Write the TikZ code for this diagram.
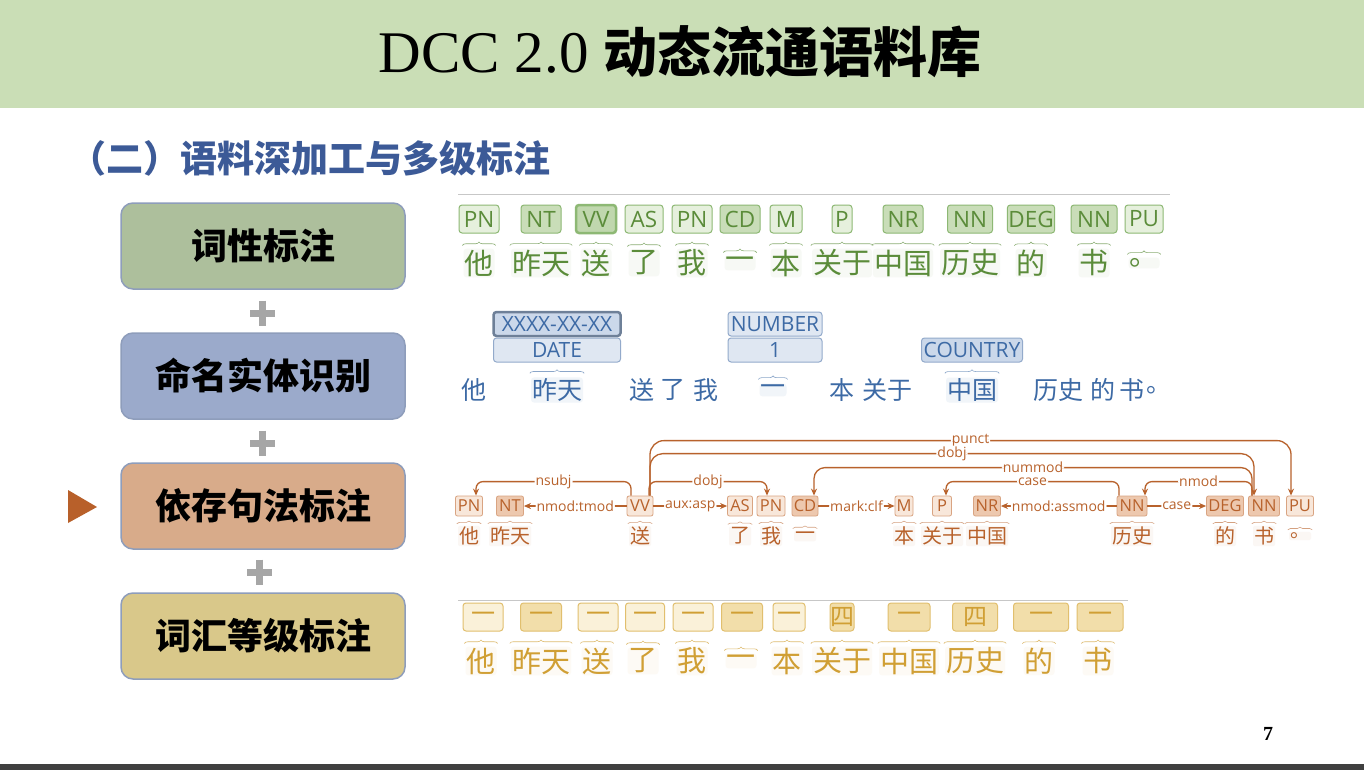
\documentclass[tikz,border=0pt]{standalone}
\usepackage{fontspec}
\setmainfont{Open Sans}
\newfontfamily\cjk{Noto Sans CJK SC}
\newfontfamily\serif{Liberation Serif}
\usetikzlibrary{arrows.meta,calc,decorations.pathreplacing}

\definecolor{bandgreen}{HTML}{CADEB6}
\definecolor{subblue}{HTML}{3C5A97}
\definecolor{boxline}{HTML}{8E9DBB}
\definecolor{posfill}{HTML}{ADBF9C}
\definecolor{nerfill}{HTML}{9BAACB}
\definecolor{depfill}{HTML}{D8AB8A}
\definecolor{lexfill}{HTML}{D9C88A}
\definecolor{plusgray}{HTML}{A6A6A6}
\definecolor{marker}{HTML}{B8602A}
\definecolor{posc}{HTML}{5B8C3A}
\definecolor{posb}{HTML}{8DB874}
\definecolor{posl}{HTML}{E6F0DD}
\definecolor{posd}{HTML}{C9DDB8}
\definecolor{nerc}{HTML}{3D6AA5}
\definecolor{nerb}{HTML}{93AACB}
\definecolor{nerl}{HTML}{DFE7F2}
\definecolor{nerd}{HTML}{CBD8EA}
\definecolor{depc}{HTML}{B8622C}
\definecolor{depb}{HTML}{D9A482}
\definecolor{depl}{HTML}{F8E7DA}
\definecolor{depd}{HTML}{EDC8AE}
\definecolor{lexc}{HTML}{D09F34}
\definecolor{lexb}{HTML}{E1BF6E}
\definecolor{lexl}{HTML}{FAF1D9}
\definecolor{lexd}{HTML}{F2DEAA}

\begin{document}
\begin{tikzpicture}[x=1pt, y=-1pt,
    level box/.style={draw=boxline, line width=1.5pt, rounded corners=12pt, minimum width=284pt, minimum height=86pt, font=\cjk\bfseries\fontsize{36}{36}\selectfont},
    plus/.style={draw=plusgray, line width=7pt},
    brc/.style={decorate, decoration={brace, amplitude=3.5pt}, line width=0.6pt},
    pos tag/.style={draw=posb, fill=posl, text=posc, rounded corners=3pt, line width=1pt, minimum width=40pt, minimum height=28pt, inner xsep=1pt, inner ysep=0pt, font=\fontsize{22.5}{22.5}\selectfont},
    pos tag dark/.style={pos tag, fill=posd},
    pos word/.style={text=posc, fill=posc!5, rounded corners=3pt, inner sep=1pt, font=\cjk\fontsize{29}{29}\selectfont},
    ner tag/.style={draw=nerb, fill=nerl, text=nerc, rounded corners=3pt, line width=1pt, minimum height=24pt, inner sep=0pt, font=\fontsize{21}{21}\selectfont},
    ner word/.style={text=nerc, inner sep=1pt, font=\cjk\fontsize{25}{25}\selectfont},
    ner key/.style={ner word, fill=nerc!7, rounded corners=3pt},
    dep tag/.style={draw=depb, fill=depl, text=depc, rounded corners=2pt, line width=0.8pt, minimum width=26pt, minimum height=20pt, inner xsep=1pt, inner ysep=0pt, font=\fontsize{16.5}{16.5}\selectfont},
    dep tag dark/.style={dep tag, fill=depd},
    dep word/.style={text=depc, fill=depc!5, rounded corners=2pt, inner sep=1pt, font=\cjk\fontsize{20}{20}\selectfont},
    dep/.style={draw=depc, line width=1.3pt, rounded corners=7pt, -{Stealth[length=7pt,width=6pt]}},
    dlab/.style={fill=white, text=depc, inner sep=1pt, font=\fontsize{14}{14}\selectfont},
    lex tag/.style={draw=lexb, fill=lexl, text=lexc, rounded corners=3pt, line width=1pt, minimum width=40pt, minimum height=28pt, inner sep=0pt, font=\cjk\fontsize{24}{24}\selectfont},
    lex tag dark/.style={lex tag, fill=lexd},
    lex word/.style={text=lexc, fill=lexc!5, rounded corners=3pt, inner sep=1pt, font=\cjk\fontsize{29}{29}\selectfont}]

    \fill[white] (0,0) rectangle (1364,770);
    \useasboundingbox (0,0) rectangle (1364,770);

    \fill[bandgreen] (0,0) rectangle (1364,108);
    \fill[black!75] (0,764) rectangle (1364,770);
    \node at (680,52) (title) {\serif\fontsize{59}{59}\selectfont DCC 2.0 \cjk\bfseries\fontsize{54}{54}\selectfont 动态流通语料库};
    \node[text=subblue, font=\cjk\bfseries\fontsize{37}{37}\selectfont] at (310,158) (sub) {（二）语料深加工与多级标注};
    \node[font=\serif\bfseries\fontsize{20}{20}\selectfont] at (1268,734) (pageno) {7};

    \node[level box, fill=posfill] at (263,246) (pos) {词性标注};
    \node[level box, fill=nerfill] at (263,376) (ner) {命名实体识别};
    \node[level box, fill=depfill] at (263,506) (dep) {依存句法标注};
    \node[level box, fill=lexfill] at (263,636) (lex) {词汇等级标注};

    \draw[plus] (250,313) -- (275,313) (262.5,300.5) -- (262.5,325.5);
    \draw[plus] (250,443) -- (275,443) (262.5,430.5) -- (262.5,455.5);
    \draw[plus] (247,572) -- (272,572) (259.5,559.5) -- (259.5,584.5);
    \fill[marker] (68,490) -- (97,507) -- (68,523) -- cycle;

    \draw[black!22, line width=1pt] (458,194) -- (1170,194);
    \draw[black!22, line width=1pt] (458,600) -- (1128,600);

    \node[pos tag] at (479,219) (pt1) {PN};
    \node[pos tag dark] at (541,219) (pt2) {NT};
    \node[pos tag dark, fill=posd!85!posb, line width=2.5pt] at (596,219) (pt3) {VV};
    \node[pos tag, minimum width=38pt] at (644,219) (pt4) {AS};
    \node[pos tag] at (692,219) (pt5) {PN};
    \node[pos tag dark] at (740,219) (pt6) {CD};
    \node[pos tag, minimum width=32pt] at (786,219) (pt7) {M};
    \node[pos tag, minimum width=20pt] at (842,219) (pt8) {P};
    \node[pos tag dark] at (903,219) (pt9) {NR};
    \node[pos tag dark, minimum width=45pt] at (970,219) (pt10) {NN};
    \node[pos tag dark, minimum width=44pt] at (1031,219) (pt11) {DEG};
    \node[pos tag dark, minimum width=46pt] at (1094,219) (pt12) {NN};
    \node[pos tag, minimum width=38pt] at (1144,219) (pt13) {PU};

    \node[pos word] at (479,263) (pw1) {他};
    \node[pos word] at (541,263) (pw2) {昨天};
    \node[pos word] at (596,263) (pw3) {送};
    \node[pos word] at (644,263) (pw4) {了};
    \node[pos word] at (692,263) (pw5) {我};
    \node[pos word] at (740,263) (pw6) {一};
    \node[pos word] at (786,263) (pw7) {本};
    \node[pos word] at (842,263) (pw8) {关于};
    \node[pos word] at (903,263) (pw9) {中国};
    \node[pos word] at (970,263) (pw10) {历史};
    \node[pos word] at (1031,263) (pw11) {的};
    \node[pos word] at (1094,263) (pw12) {书};
    \node[pos word] at (1144,263) (pw13) {。};
    \foreach \w in {pw1,pw2,pw3,pw4,pw5,pw6,pw7,pw8,pw9,pw10,pw11,pw12,pw13}
        \draw[brc, draw=posc!70] ([xshift=-1pt,yshift=3pt]\w.north west) -- ([xshift=1pt,yshift=3pt]\w.north east);

    \node[ner tag, minimum width=127pt, fill=nerd, draw=nerb!75!black, line width=2.5pt] at (557,324) (nt1) {XXXX-XX-XX};
    \node[ner tag, minimum width=127pt] at (557,350) (nt2) {DATE};
    \node[ner tag, minimum width=94pt] at (775,324) (nt3) {NUMBER};
    \node[ner tag, minimum width=94pt] at (775,350) (nt4) {1};
    \node[ner tag, minimum width=101pt, fill=nerd] at (972,350) (nt5) {COUNTRY};

    \node[ner word] at (474,390) (nw1) {他};
    \node[ner key] at (557,390) (nw2) {昨天};
    \node[ner word] at (642,390) (nw3) {送};
    \node[ner word] at (673,390) (nw4) {了};
    \node[ner word] at (706,390) (nw5) {我};
    \node[ner key] at (773,390) (nw6) {一};
    \node[ner word] at (842,390) (nw7) {本};
    \node[ner word] at (887,390) (nw8) {关于};
    \node[ner key] at (972,390) (nw9) {中国};
    \node[ner word] at (1058,390) (nw10) {历史};
    \node[ner word] at (1103,390) (nw11) {的};
    \node[ner word] at (1132,390) (nw12) {书};
    \node[ner word] at (1159,390) (nw13) {。};
    \foreach \w in {nw2,nw6,nw9}
        \draw[brc, draw=nerc!60] ([xshift=-1pt,yshift=4pt]\w.north west) -- ([xshift=1pt,yshift=4pt]\w.north east);

    \node[dep tag, minimum width=27pt] at (469,506) (dt1) {PN};
    \node[dep tag dark, minimum width=27pt] at (510,506) (dt2) {NT};
    \node[dep tag] at (640,506) (dt3) {VV};
    \node[dep tag, minimum width=25pt] at (740,506) (dt4) {AS};
    \node[dep tag, minimum width=28pt] at (771,506) (dt5) {PN};
    \node[dep tag dark] at (805,506) (dt6) {CD};
    \node[dep tag, minimum width=18pt] at (904,506) (dt7) {M};
    \node[dep tag, minimum width=19pt] at (942,506) (dt8) {P};
    \node[dep tag dark, minimum width=27pt] at (987,506) (dt9) {NR};
    \node[dep tag dark, minimum width=30pt] at (1132,506) (dt10) {NN};
    \node[dep tag dark, minimum width=37pt] at (1225,506) (dt11) {DEG};
    \node[dep tag dark, minimum width=31pt] at (1264,506) (dt12) {NN};
    \node[dep tag, minimum width=27pt] at (1300,506) (dt13) {PU};

    \node[dep word] at (469,536) (dw1) {他};
    \node[dep word] at (510,536) (dw2) {昨天};
    \node[dep word] at (640,536) (dw3) {送};
    \node[dep word] at (740,536) (dw4) {了};
    \node[dep word] at (771,536) (dw5) {我};
    \node[dep word] at (805,536) (dw6) {一};
    \node[dep word] at (904,536) (dw7) {本};
    \node[dep word] at (942,536) (dw8) {关于};
    \node[dep word] at (987,536) (dw9) {中国};
    \node[dep word] at (1132,536) (dw10) {历史};
    \node[dep word] at (1225,536) (dw11) {的};
    \node[dep word] at (1264,536) (dw12) {书};
    \node[dep word] at (1300,536) (dw13) {。};
    \foreach \w in {dw1,dw2,dw3,dw4,dw5,dw6,dw7,dw8,dw9,dw10,dw11,dw12,dw13}
        \draw[brc, decoration={amplitude=2.5pt}, draw=depc!60] ([xshift=-1pt,yshift=2pt]\w.north west) -- ([xshift=1pt,yshift=2pt]\w.north east);

    \draw[dep, rounded corners=14pt] ($(dt3.north)+(10,0)$) -- ($(dt3.north)+(10,-55)$) -- node[dlab]{punct} ($(dt13.north)+(-9,-55)$) -- ($(dt13.north)+(-9,0)$);
    \draw[dep, rounded corners=13pt] ($(dt3.north)+(10,0)$) -- ($(dt3.north)+(10,-42)$) -- node[dlab]{dobj} ($(dt12.north)+(-10,-42)$) -- ($(dt12.north)+(-10,0)$);
    \draw[dep, rounded corners=11pt] ($(dt12.north)+(-12,0)$) -- ($(dt12.north)+(-12,-28)$) -- node[dlab]{nummod} ($(dt6.north)+(9,-28)$) -- ($(dt6.north)+(9,0)$);
    \draw[dep] ($(dt3.north)+(-9,0)$) -- ($(dt3.north)+(-9,-14)$) -- node[dlab]{nsubj} ($(dt1.north)+(7,-14)$) -- ($(dt1.north)+(7,0)$);
    \draw[dep] ($(dt3.north)+(9,0)$) -- ($(dt3.north)+(9,-14)$) -- node[dlab]{dobj} ($(dt5.north)+(-4,-14)$) -- ($(dt5.north)+(-4,0)$);
    \draw[dep] ($(dt10.north)+(-13,0)$) -- ($(dt10.north)+(-13,-14)$) -- node[dlab]{case} ($(dt8.north)+(4,-14)$) -- ($(dt8.north)+(4,0)$);
    \draw[dep] ($(dt12.north)+(-12,0)$) -- ($(dt12.north)+(-12,-14)$) -- node[dlab]{nmod} ($(dt10.north)+(13,-14)$) -- ($(dt10.north)+(13,0)$);
    \draw[dep] (dt3.west) -- node[dlab]{nmod:tmod} (dt2.east);
    \draw[dep] (dt3.east) -- node[dlab]{aux:asp} (dt4.west);
    \draw[dep] (dt6.east) -- node[dlab]{mark:clf} (dt7.west);
    \draw[dep] (dt10.west) -- node[dlab]{nmod:assmod} (dt9.east);
    \draw[dep] (dt10.east) -- node[dlab]{case} (dt11.west);

    \node[lex tag] at (483,617) (lt1) {一};
    \node[lex tag dark, minimum width=41pt] at (541,617) (lt2) {一};
    \node[lex tag] at (598,617) (lt3) {一};
    \node[lex tag, minimum width=39pt] at (645,617) (lt4) {一};
    \node[lex tag] at (693,617) (lt5) {一};
    \node[lex tag dark, minimum width=41pt] at (742,617) (lt6) {一};
    \node[lex tag, minimum width=32pt] at (789,617) (lt7) {一};
    \node[lex tag dark, minimum width=22pt] at (842,617) (lt8) {四};
    \node[lex tag dark, minimum width=42pt] at (909,617) (lt9) {一};
    \node[lex tag dark, minimum width=45pt] at (975,617) (lt10) {四};
    \node[lex tag dark, minimum width=55pt] at (1041,617) (lt11) {一};
    \node[lex tag dark, minimum width=46pt] at (1100,617) (lt12) {一};

    \node[lex word] at (481,661) (lw1) {他};
    \node[lex word] at (541,661) (lw2) {昨天};
    \node[lex word] at (597,661) (lw3) {送};
    \node[lex word] at (643,661) (lw4) {了};
    \node[lex word] at (692,661) (lw5) {我};
    \node[lex word] at (741,661) (lw6) {一};
    \node[lex word] at (787,661) (lw7) {本};
    \node[lex word] at (842,661) (lw8) {关于};
    \node[lex word] at (909,661) (lw9) {中国};
    \node[lex word] at (975,661) (lw10) {历史};
    \node[lex word] at (1039,661) (lw11) {的};
    \node[lex word] at (1098,661) (lw12) {书};
    \foreach \w in {lw1,lw2,lw3,lw4,lw5,lw6,lw7,lw8,lw9,lw10,lw11,lw12}
        \draw[brc, draw=lexc!70] ([xshift=-1pt,yshift=3pt]\w.north west) -- ([xshift=1pt,yshift=3pt]\w.north east);

\end{tikzpicture}
\end{document}
